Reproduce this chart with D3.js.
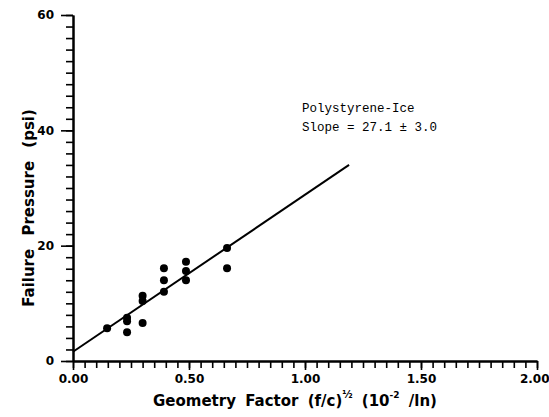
<!DOCTYPE html>
<html>
<head>
<meta charset="utf-8">
<script src="https://cdn.jsdelivr.net/npm/d3@7"></script>
<style>
  body { margin: 0; background: #fff; }
  .tick text { font-family: "DejaVu Sans", sans-serif; font-weight: bold; font-size: 12px; fill: #000; }
  .axis-title { font-family: "DejaVu Sans", sans-serif; font-weight: bold; font-size: 15px; fill: #000; }
  .note { font-family: "Liberation Mono", monospace; font-size: 12.5px; fill: #000; }
</style>
</head>
<body>
<script>
//Data
var geomFactor = [0.147, 0.233, 0.233, 0.233, 0.30, 0.30, 0.30, 0.392, 0.392, 0.392, 0.487, 0.487, 0.487, 0.664, 0.664];
var failPressure = [5.7, 7.5, 6.9, 5.0, 11.3, 10.4, 6.6, 16.1, 14.0, 12.0, 17.2, 15.6, 14.0, 19.6, 16.1];

//fitted line end points
var fitX = [0, 1.19];
var fitY = [1.6, 34.0];

//tick labels
var xTicks = [0, 0.5, 1.0, 1.5, 2.0];
var yTicks = [0, 20, 40, 60];

var noteLines = ["Polystyrene-Ice", "Slope = 27.1 \u00B1 3.0"];

//svg size
var svgWidth = 549;
var svgHeight = 417;

var svg = d3.select("body")
    .append("svg")
    .attr("width", svgWidth)
    .attr("height", svgHeight);

//scales
var xScale = d3.scaleLinear()
    .domain([0, 2])
    .range([73, 537]);

var yScale = d3.scaleLinear()
    .domain([0, 60])
    .range([361, 15]);

//minor ticks first
var xMinor = d3.axisBottom(xScale)
    .tickValues(d3.range(0, 2.001, 0.05))
    .tickSize(7)
    .tickSizeOuter(0)
    .tickFormat("");

var yMinor = d3.axisLeft(yScale)
    .tickValues(d3.range(0, 60.01, 2))
    .tickSize(7)
    .tickSizeOuter(0)
    .tickFormat("");

svg.append("g")
    .attr("transform", `translate(0, ${yScale(0)})`)
    .call(xMinor);

svg.append("g")
    .attr("transform", `translate(${xScale(0)}, 0)`)
    .call(yMinor);

//major ticks with labels
var xAxis = d3.axisBottom(xScale)
    .tickValues(xTicks)
    .tickSize(9)
    .tickSizeOuter(0)
    .tickPadding(4)
    .tickFormat(d3.format(".2f"));

var yAxis = d3.axisLeft(yScale)
    .tickValues(yTicks)
    .tickSize(12)
    .tickSizeOuter(0)
    .tickPadding(7)
    .tickFormat(d3.format("d"));

var xAxisG = svg.append("g")
    .attr("transform", `translate(0, ${yScale(0)})`)
    .call(xAxis);

svg.append("g")
    .attr("transform", `translate(${xScale(0)}, 0)`)
    .call(yAxis);

//keep last x label inside the frame
xAxisG.selectAll(".tick text")
    .filter(d => d === 2)
    .attr("text-anchor", "end")
    .attr("dx", 12);

svg.selectAll(".domain")
    .attr("stroke", "#000")
    .attr("stroke-width", 2);

svg.selectAll(".tick line")
    .attr("stroke", "#000")
    .attr("stroke-width", 1.6);

//fitted line
svg.append("line")
    .attr("x1", xScale(fitX[0]))
    .attr("y1", yScale(fitY[0]))
    .attr("x2", xScale(fitX[1]))
    .attr("y2", yScale(fitY[1]))
    .attr("stroke", "#000")
    .attr("stroke-width", 2);

//points
svg.selectAll("circle")
    .data(geomFactor)
    .enter()
    .append("circle")
    .attr("cx", d => xScale(d))
    .attr("cy", (d, i) => yScale(failPressure[i]))
    .attr("r", 4)
    .attr("fill", "#000");

//note text
svg.selectAll(".note")
    .data(noteLines)
    .enter()
    .append("text")
    .classed("note", true)
    .attr("x", 302)
    .attr("y", (d, i) => 112 + i * 19)
    .text(d => d);

//y axis title
svg.append("text")
    .classed("axis-title", true)
    .attr("transform", "translate(34, 208) rotate(-90)")
    .attr("text-anchor", "middle")
    .attr("word-spacing", 8)
    .text("Failure Pressure (psi)");

//x axis title
var xTitle = svg.append("text")
    .classed("axis-title", true)
    .attr("x", 153)
    .attr("y", 406)
    .attr("word-spacing", 4);

xTitle.append("tspan").text("Geometry Factor (f/c)");
xTitle.append("tspan").attr("dy", -8).attr("font-size", 10).text("\u00BD");
xTitle.append("tspan").attr("dy", 8).text(" (10");
xTitle.append("tspan").attr("dy", -8).attr("font-size", 9).text("-2");
xTitle.append("tspan").attr("dy", 8).text("  /ln)");
</script>
</body>
</html>
